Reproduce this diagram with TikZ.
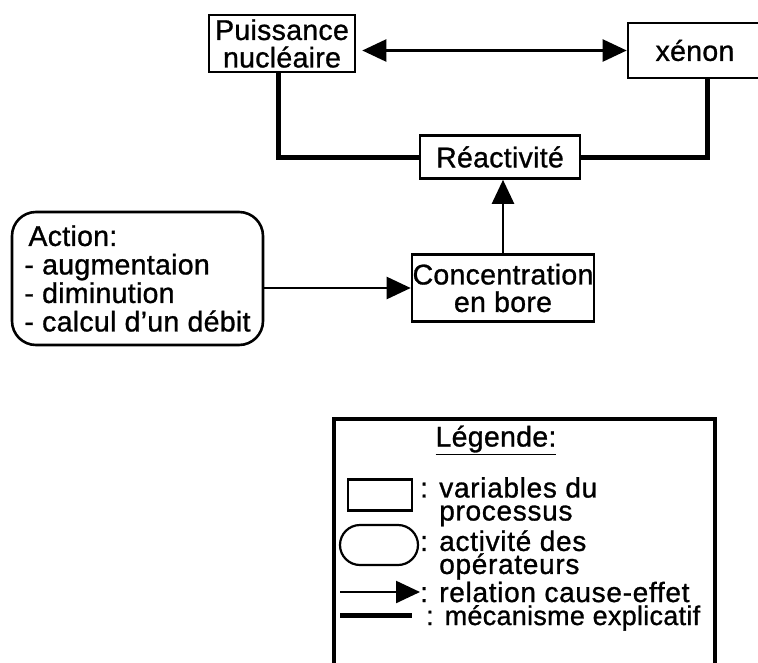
\documentclass[tikz,border=0pt]{standalone}
\usepackage{fontspec}
\setmainfont[LetterSpace=1,FakeBold=1]{Liberation Sans}
\usetikzlibrary{arrows.meta,calc}
\tikzset{
  txt/.style={font=\fontsize{28.5}{27.5}\selectfont, inner sep=0pt},
  var/.style={txt, draw, line width=2.6pt, align=center},
  act/.style={txt, draw, line width=2.6pt, align=left, rounded corners=24pt},
  cause/.style={line width=2.4pt, -{Triangle[length=24pt,width=22pt]}},
  causeboth/.style={line width=2.4pt, {Triangle[length=24pt,width=22pt]}-{Triangle[length=24pt,width=22pt]}},
  mech/.style={line width=5pt},
}
\begin{document}
\begin{tikzpicture}[x=1pt,y=-1pt]
\useasboundingbox (0,0) rectangle (758,662);
\clip (0,0) rectangle (758,662);
% process variables
\node[var, minimum width=146pt, minimum height=57pt] (P) at (282,43.5) {Puissance\\nucléaire};
\node[var, minimum width=134pt, minimum height=55pt] (X) at (695,50.5) {xénon};
\node[var, minimum width=160pt, minimum height=43pt] (R) at (500,157) {Réactivité};
\node[var, minimum width=182pt, minimum height=67pt] (C) at (503,288) {Concentration\\en bore};
% operator activity
\node[act, minimum width=251pt, minimum height=133pt, font=\fontsize{28.5}{28.5}\selectfont] (A) at (137.5,278.5) {\hspace*{4pt}Action:\\- augmentaion\\- diminution\\- calcul d'un débit};
% connectors
\draw[causeboth] ([xshift=6pt]X.west -| P.east) -- (X.west);
\draw[mech] ([xshift=-4pt]P.south) |- (R.west);
\draw[mech] (R.east) -| ([xshift=12pt]X.south);
\draw[cause] (C.north) -- (C.north |- R.south);
\draw[cause] (A.east |- C.west) -- (C.west);
% legend
\node[draw, line width=4pt, minimum width=381pt, minimum height=300pt, anchor=north west] (L) at (332,417) {};
\node[txt] (LT) at (496,440) {\underline{Légende:}};
\node[draw, line width=2.2pt, minimum width=64pt, minimum height=31pt] (Lr) at (380,495) {};
\node[draw, line width=2.2pt, minimum width=78pt, minimum height=40pt, rounded corners=20pt] (Ls) at (379,545) {};
\coordinate (a1) at (340,592);
\coordinate (a2) at (420,592);
\draw[cause] (a1) -- (a2);
\coordinate (m1) at (340,615);
\coordinate (m2) at (412,615);
\draw[mech] (m1) -- (m2);
\node[txt, anchor=north west, align=left, font=\fontsize{28}{23}\selectfont\addfontfeature{LetterSpace=2.5}] (Ltext) at (420,477)
  {: variables du\\
   \phantom{: }processus\\[3pt]
   : activité des\\
   \phantom{: }opérateurs\\[1pt]
   : relation cause-effet\\
   {\fontsize{27}{23}\selectfont\addfontfeature{LetterSpace=1}\hspace*{6pt}:\hspace{11pt}mécanisme explicatif}};
\end{tikzpicture}
\end{document}
